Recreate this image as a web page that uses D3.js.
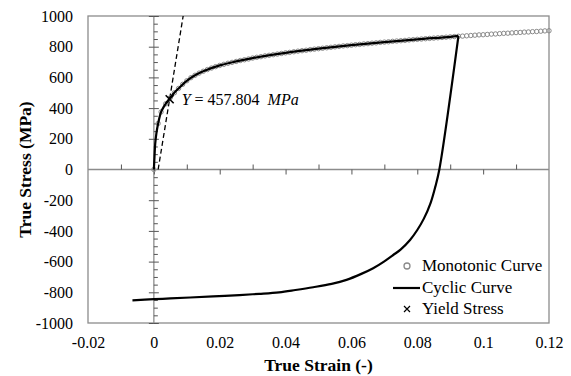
<!DOCTYPE html>
<html>
<head>
<meta charset="utf-8">
<script src="https://cdn.jsdelivr.net/npm/d3@7"></script>
<style>
  body { margin: 0; background: #fff; }
  text { font-family: "Liberation Serif", "DejaVu Serif", serif; }
</style>
</head>
<body>
<div id="chart"></div>
<script>
// monotonic test points (strain, MPa)
const monoStrain = [0, 0.0013, 0.0022, 0.0036, 0.005, 0.00625, 0.0075, 0.00875,
  0.01, 0.01125, 0.0125, 0.01375, 0.015, 0.01625, 0.0175, 0.01875,
  0.02, 0.02125, 0.0225, 0.02375, 0.025, 0.02625, 0.0275, 0.02875,
  0.03, 0.03125, 0.0325, 0.03375, 0.035, 0.03625, 0.0375, 0.03875,
  0.04, 0.04125, 0.0425, 0.04375, 0.045, 0.04625, 0.0475, 0.04875,
  0.05, 0.05125, 0.0525, 0.05375, 0.055, 0.05625, 0.0575, 0.05875,
  0.06, 0.06125, 0.0625, 0.06375, 0.065, 0.06625, 0.0675, 0.06875,
  0.07, 0.07125, 0.0725, 0.07375, 0.075, 0.07625, 0.0775, 0.07875,
  0.08, 0.08125, 0.0825, 0.08375, 0.085, 0.08625, 0.0875, 0.08875,
  0.09, 0.09125, 0.0925, 0.09375, 0.095, 0.09625, 0.0975, 0.09875,
  0.1, 0.10125, 0.1025, 0.10375, 0.105, 0.10625, 0.1075, 0.10875,
  0.11, 0.11125, 0.1125, 0.11375, 0.115, 0.11625, 0.1175, 0.11875,
  0.12];
const monoStress = [0, 300, 375, 428, 468, 500, 528, 555,
  578, 598, 614, 628, 640, 651, 661, 670,
  678, 685, 692, 698, 704, 710, 715, 720,
  726, 731, 735, 740, 744, 748, 752, 756,
  760, 763, 767, 771, 774, 777, 781, 784,
  787, 790, 793, 796, 799, 802, 805, 807,
  810, 813, 815, 818, 820, 823, 825, 828,
  830, 832, 835, 837, 839, 841, 844, 846,
  848, 850, 852, 854, 856, 858, 860, 862,
  864, 866, 868, 869, 871, 873, 875, 877,
  878, 880, 882, 883, 885, 887, 888, 890,
  892, 893, 895, 896, 898, 899, 901, 903,
  904];

// cyclic curve: loading branch then reversal branch
const loadStrain = [0, 0.0002, 0.0004, 0.0008, 0.0013, 0.0022, 0.003, 0.0036, 0.0048,
  0.006, 0.0075, 0.01, 0.0125, 0.015, 0.02, 0.025, 0.03, 0.04, 0.05, 0.06, 0.07, 0.08, 0.09, 0.0925];
const loadStress = [0, 85, 165, 240, 300, 375, 408, 428, 462,
  495, 528, 578, 614, 640, 678, 704, 726, 760, 787, 810, 830, 848, 864, 870];
const revStrain = [0.0925, 0.0867, 0.0855, 0.084, 0.082, 0.08, 0.0778, 0.075, 0.0727, 0.07,
  0.0666, 0.063, 0.0585, 0.054, 0.0484, 0.043, 0.038, 0.032, 0.026, 0.018, 0.011, 0.005, 0, -0.0065];
const revStress = [870, 0, -110, -220, -320, -394, -459, -520, -557, -598,
  -643, -680, -719, -745, -767, -785, -800, -810, -818, -827, -834, -840, -845, -852];

// elastic offset line
const offsetStrain = [0.0013, 0.0089];
const offsetStress = [0, 1000];

const yieldStrain = 0.0048;
const yieldStress = 457.804;

const xTicks = [-0.02, 0, 0.02, 0.04, 0.06, 0.08, 0.1, 0.12];
const xMinor = [-0.01, 0.01, 0.03, 0.05, 0.07, 0.09, 0.11];
const yTicks = [-1000, -800, -600, -400, -200, 0, 200, 400, 600, 800, 1000];
const yMinor = d3.range(-1000, 1001, 50).filter(v => v % 200 !== 0);

const legendLabels = ['Monotonic Curve', 'Cyclic Curve', 'Yield Stress'];

const width = 571, height = 376;
const margin = { top: 16, right: 22, bottom: 53, left: 88 };
const frameColor = '#8c8c8c';
const serif = '"Liberation Serif", "DejaVu Serif", serif';

const svg = d3.select('#chart').append('svg')
  .attr('width', width)
  .attr('height', height)
  .attr('font-family', serif);

const x = d3.scaleLinear().domain([-0.02, 0.12]).range([margin.left, width - margin.right]);
const y = d3.scaleLinear().domain([-1000, 1000]).range([height - margin.bottom, margin.top]);

// frame
svg.append('rect')
  .attr('x', x(-0.02)).attr('y', y(1000))
  .attr('width', x(0.12) - x(-0.02)).attr('height', y(-1000) - y(1000))
  .attr('fill', 'none').attr('stroke', frameColor).attr('stroke-width', 1.3);

// zero lines
svg.append('line')
  .attr('x1', x(-0.02)).attr('x2', x(0.12)).attr('y1', y(0)).attr('y2', y(0))
  .attr('stroke', frameColor).attr('stroke-width', 1.3);
svg.append('line')
  .attr('x1', x(0)).attr('x2', x(0)).attr('y1', y(1000)).attr('y2', y(-1000))
  .attr('stroke', frameColor).attr('stroke-width', 1.3);

function styleTicks(g) {
  g.select('.domain').remove();
  g.selectAll('line').attr('stroke', '#555').attr('stroke-width', 1);
}

// x ticks on the zero line
svg.append('g').attr('transform', 'translate(0,' + y(0) + ')')
  .call(d3.axisBottom(x).tickValues(xTicks.filter(v => v > -0.02 && v < 0.12)).tickSize(5).tickFormat(''))
  .call(styleTicks);
svg.append('g').attr('transform', 'translate(0,' + y(0) + ')')
  .call(d3.axisTop(x).tickValues(xMinor).tickSize(5).tickFormat(''))
  .call(styleTicks);

// y ticks on the zero line
svg.append('g').attr('transform', 'translate(' + x(0) + ',0)')
  .call(d3.axisLeft(y).tickValues(yTicks.filter(v => v !== 0)).tickSize(5).tickFormat(''))
  .call(styleTicks);
svg.append('g').attr('transform', 'translate(' + x(0) + ',0)')
  .call(d3.axisRight(y).tickValues(yTicks.filter(v => v !== 0)).tickSize(5).tickFormat(''))
  .call(styleTicks);
svg.append('g').attr('transform', 'translate(' + x(0) + ',0)')
  .call(d3.axisRight(y).tickValues(yMinor).tickSize(4).tickFormat(''))
  .call(styleTicks);

// tick labels around the frame
const xLab = svg.append('g').attr('transform', 'translate(0,' + y(-1000) + ')')
  .call(d3.axisBottom(x).tickValues(xTicks).tickSize(0).tickPadding(14).tickFormat(d => String(d)));
xLab.select('.domain').remove();
xLab.attr('font-family', serif).attr('font-size', 16);
xLab.selectAll('text').attr('fill', '#000');

const yLab = svg.append('g').attr('transform', 'translate(' + x(-0.02) + ',0)')
  .call(d3.axisLeft(y).tickValues(yTicks).tickSize(0).tickPadding(15).tickFormat(d => String(d)));
yLab.select('.domain').remove();
yLab.attr('font-family', serif).attr('font-size', 16);
yLab.selectAll('text').attr('fill', '#000');

// axis titles
svg.append('text')
  .attr('x', (x(-0.02) + x(0.12)) / 2).attr('y', 371)
  .attr('text-anchor', 'middle').attr('font-size', 17.5).attr('font-weight', 'bold')
  .text('True Strain (-)');
svg.append('text')
  .attr('transform', 'translate(31,' + y(0) + ') rotate(-90)')
  .attr('text-anchor', 'middle').attr('font-size', 17.5).attr('font-weight', 'bold')
  .text('True Stress (MPa)');

// dashed elastic line
svg.append('path')
  .datum(d3.zip(offsetStrain, offsetStress))
  .attr('fill', 'none').attr('stroke', '#000').attr('stroke-width', 1.3)
  .attr('stroke-dasharray', '5,3')
  .attr('d', d3.line().x(d => x(d[0])).y(d => y(d[1])));

// monotonic circles
svg.append('g').selectAll('circle')
  .data(d3.zip(monoStrain, monoStress))
  .join('circle')
  .attr('cx', d => x(d[0])).attr('cy', d => y(d[1])).attr('r', 2.2)
  .attr('fill', 'none').attr('stroke', '#8a8a8a').attr('stroke-width', 1);

// cyclic curve
const cycLine = d3.line().x(d => x(d[0])).y(d => y(d[1])).curve(d3.curveCatmullRom.alpha(0.5));
svg.append('path')
  .datum(d3.zip(loadStrain, loadStress))
  .attr('fill', 'none').attr('stroke', '#000').attr('stroke-width', 2.2)
  .attr('d', cycLine);
svg.append('path')
  .datum(d3.zip(revStrain, revStress))
  .attr('fill', 'none').attr('stroke', '#000').attr('stroke-width', 2.2)
  .attr('d', cycLine);

// yield marker
function cross(g, cx, cy, s, w) {
  g.append('path')
    .attr('d', `M${cx - s},${cy - s}L${cx + s},${cy + s}M${cx - s},${cy + s}L${cx + s},${cy - s}`)
    .attr('stroke', '#000').attr('stroke-width', w).attr('fill', 'none');
}
cross(svg, x(yieldStrain), y(yieldStress), 4, 1.6);

// yield label
const yl = svg.append('text')
  .attr('x', x(yieldStrain) + 12).attr('y', y(yieldStress) + 6)
  .attr('font-size', 16);
yl.append('tspan').attr('font-style', 'italic').text('Y');
yl.append('tspan').text(' = ' + yieldStress.toFixed(3) + '\u00a0\u00a0');
yl.append('tspan').attr('font-style', 'italic').text('MPa');

// legend
const lg = svg.append('g');
const lx = 407, ly = [266, 288, 309];
lg.append('circle').attr('cx', lx).attr('cy', ly[0]).attr('r', 3)
  .attr('fill', 'none').attr('stroke', '#8a8a8a').attr('stroke-width', 1.3);
lg.append('line').attr('x1', lx - 14).attr('x2', lx + 13).attr('y1', ly[1]).attr('y2', ly[1])
  .attr('stroke', '#000').attr('stroke-width', 2.2);
cross(lg, lx, ly[2], 3, 1.2);
lg.selectAll('text').data(legendLabels).join('text')
  .attr('x', lx + 15).attr('y', (d, i) => ly[i] + 5)
  .attr('font-size', 17)
  .text(d => d);
</script>
</body>
</html>
